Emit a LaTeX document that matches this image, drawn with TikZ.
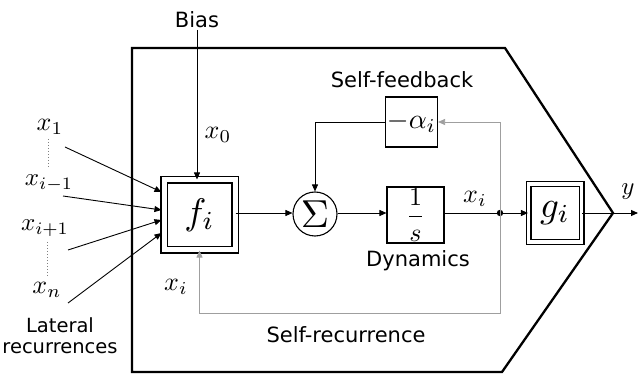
\documentclass[tikz,border=0pt]{standalone}
\usepackage{amsmath}
\usepackage{graphicx}
\usepackage{fontspec}
\setmainfont{DejaVu Sans}
\usetikzlibrary{arrows.meta,calc}
\newcommand{\mym}[2]{\scalebox{#1}{$#2$}}
\begin{document}
\begin{tikzpicture}[x=1pt,y=-1pt,
  txt/.style={font=\fontsize{21}{24}\selectfont, inner sep=0pt},
  ltxt/.style={font=\fontsize{19.5}{23}\selectfont, inner sep=0pt},
  mth/.style={inner sep=0pt},
  blk/.style={draw, line width=1.1pt, inner sep=0pt},
  dbl/.style={draw, double, line width=1.1pt, inner sep=0pt},
  arr/.style={line width=0.9pt, -{Triangle[length=7pt,width=6pt]}},
  garr/.style={line width=0.8pt, draw=gray!75, -{Triangle[length=7pt,width=6pt]}}]
\useasboundingbox (0,0) rectangle (638,374);
% outer polygon
\draw[line width=2.3pt, line join=miter] (132,48) -- (505,48) -- (613,213) -- (502,372) -- (132,372) -- cycle;
\coordinate (tip) at (613,213);
\coordinate (yend) at (638,213);
% nodes
\node[txt] (bias) at (197,20) {Bias};
\node[dbl, double distance=5pt, minimum width=71pt, minimum height=70pt] (f) at (199.5,215) {\mym{3.7}{f_i}};
\node[draw, circle, line width=1.1pt, minimum size=44pt, inner sep=0pt] (sum) at (315,214) {\mym{3.9}{\Sigma}};
\node[blk, minimum width=52pt, minimum height=50pt] (alpha) at (411.5,122) {\mym{2.8}{-\alpha_i}};
\node[blk, minimum width=57pt, minimum height=56pt] (dyn) at (415.5,215) {\mym{2.6}{\dfrac{1}{s}}};
\node[dbl, double distance=3.8pt, minimum width=53pt, minimum height=58pt] (g) at (555,213) {\mym{3.7}{g_i}};
\coordinate (junc) at (500,213);
\fill (junc) circle (3.2pt);
% labels
\node[mth] (x0) at (218,135) {\mym{2.6}{x_0}};
\node[mth] (xif) at (176,287) {\mym{2.6}{x_i}};
\node[mth] (xij) at (475,199) {\mym{2.6}{x_i}};
\node[mth] (y) at (628,192) {\mym{2.5}{y}};
\node[txt] (sfb) at (402,80) {Self-feedback};
\node[txt] (dynl) at (418,261) {Dynamics};
\node[txt] (srec) at (346,335) {Self-recurrence};
\node[ltxt] (lat) at (60,325) {Lateral};
\node[ltxt] (rec) at (60,348) {recurrences};
\node[mth] (x1) at (50,127) {\mym{2.6}{x_1}};
\node[mth] (xim) at (49,183) {\mym{2.5}{x_{i-1}}};
\node[mth] (xip) at (45,228) {\mym{2.5}{x_{i+1}}};
\node[mth] (xn) at (47,290) {\mym{2.6}{x_n}};
% dotted ellipses
\draw[dotted, line width=1pt, gray] (48,139) -- (48,167);
\draw[dotted, line width=1pt, gray] (47,242) -- (47,277);
% lateral inputs
\coordinate (s1) at (65,147);
\coordinate (s2) at (63,196);
\coordinate (s3) at (68,250);
\coordinate (s4) at (68,303);
\draw[arr] (s1) -- ($(f.west)+(-2,-23)$);
\draw[arr] (s2) -- ($(f.west)+(-2,-5)$);
\draw[arr] (s3) -- ($(f.west)+(-2,5)$);
\draw[arr] (s4) -- ($(f.west)+(-2,18)$);
% bias
\draw[arr] (bias.south |- 0,30) -- (bias.south |- f.north);
% main path
\draw[arr] (f.east |- 0,213) -- (sum.west |- 0,213);
\draw[arr] (sum.east |- 0,213) -- (dyn.west |- 0,213);
\draw[line width=0.9pt] (dyn.east |- 0,213) -- (junc);
\draw[arr] (junc) -- (g.west);
\draw[line width=0.9pt] (g.east) -- (tip);
\draw[arr] (tip) -- (yend);
% self-feedback
\draw[garr] (junc) |- (alpha.east);
\draw[arr] (alpha.west) -| (sum.north);
% self-recurrence
\draw[garr] (junc) -- (500,313) -| (f.south);
\end{tikzpicture}
\end{document}
